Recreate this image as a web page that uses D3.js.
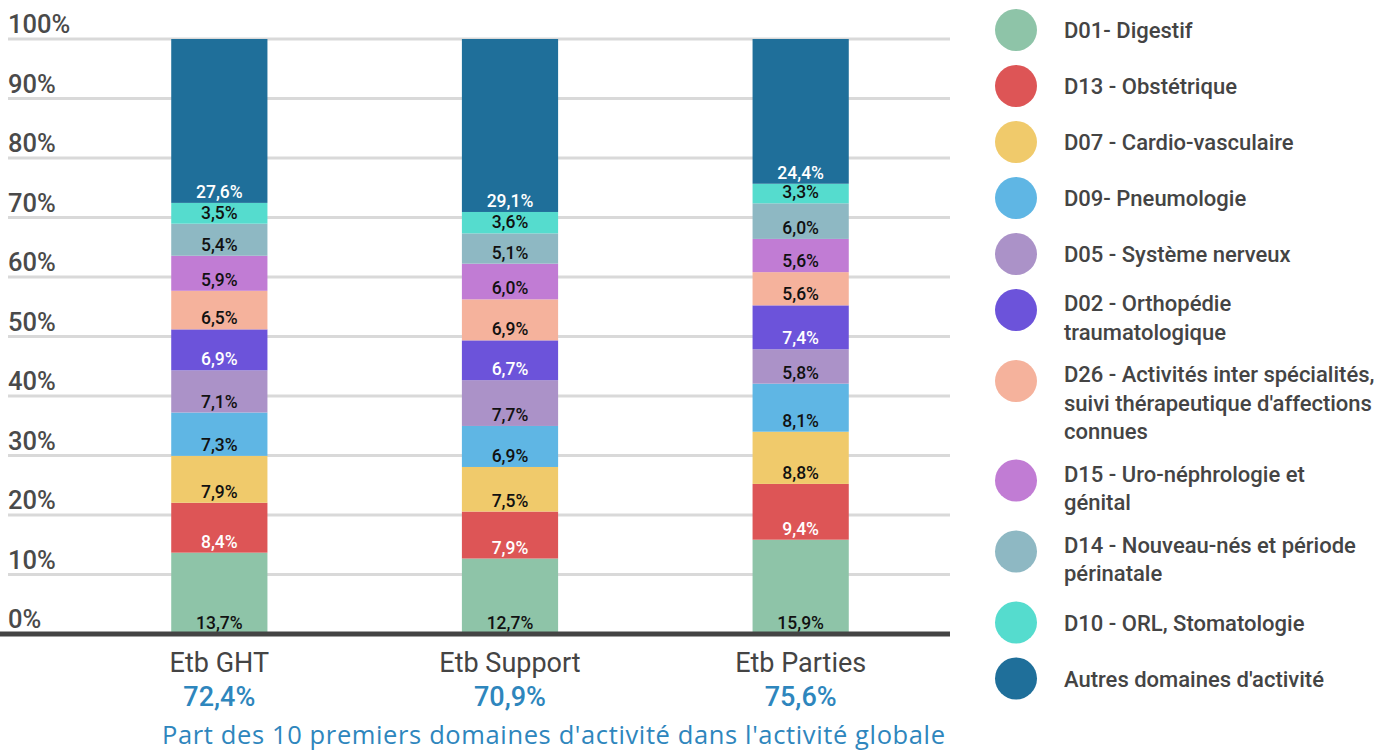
<!DOCTYPE html>
<html><head><meta charset="utf-8">
<script src="https://cdn.jsdelivr.net/npm/d3@7"></script>
<style>body{margin:0;background:#fff;font-family:Roboto,sans-serif}</style>
</head><body><svg id="c" width="1392" height="751"></svg>
<script>
const categories = ["Etb GHT", "Etb Support", "Etb Parties"];
const totals = ["72,4%", "70,9%", "75,6%"];
const seriesKeys = ["D01","D13","D07","D09","D05","D02","D26","D15","D14","D10","Autres"];
const seriesLabels = [
  ["D01- Digestif"],
  ["D13 - Obstétrique"],
  ["D07 - Cardio-vasculaire"],
  ["D09- Pneumologie"],
  ["D05 - Système nerveux"],
  ["D02 - Orthopédie", "traumatologique"],
  ["D26 - Activités inter spécialités,", "suivi thérapeutique d'affections", "connues"],
  ["D15 - Uro-néphrologie et", "génital"],
  ["D14 - Nouveau-nés et période", "périnatale"],
  ["D10 - ORL, Stomatologie"],
  ["Autres domaines d'activité"]
];
const seriesColors = ["#8ec4a8","#dd5556","#f0ca6b","#5fb6e4","#ab92c8","#6c53da","#f5b29c","#c17cd4","#8eb8c3","#55dcce","#1f6f9a"];
const labelColors = ["#111","#fff","#111","#111","#111","#fff","#111","#111","#111","#111","#fff"];
const valGHT     = [13.7, 8.4, 7.9, 7.3, 7.1, 6.9, 6.5, 5.9, 5.4, 3.5, 27.6];
const valSupport = [12.7, 7.9, 7.5, 6.9, 7.7, 6.7, 6.9, 6.0, 5.1, 3.6, 29.1];
const valParties = [15.9, 9.4, 8.8, 8.1, 5.8, 7.4, 5.6, 5.6, 6.0, 3.3, 24.4];
const yTicks = [0,10,20,30,40,50,60,70,80,90,100];
const footnote = "Part des 10 premiers domaines d'activité dans l'activité globale";

const allVals = [valGHT, valSupport, valParties];
const rows = categories.map((c,i)=>{
  const r = {cat:c};
  seriesKeys.forEach((k,j)=> r[k] = allVals[i][j]);
  return r;
});

const svg = d3.select("#c");
const y = d3.scaleLinear().domain([0,1]).range([634,39]);
const x = d3.scaleBand().domain(categories).range([74,946]).paddingInner(0.669).paddingOuter(0.3345);
const fmt = v => v.toFixed(1).replace(".", ",") + "%";

// gridlines
svg.append("g").selectAll("line").data(yTicks.filter(t=>t>0)).join("line")
  .attr("x1",8).attr("x2",950)
  .attr("y1",d=>y(d/100)).attr("y2",d=>y(d/100))
  .attr("stroke","#d9d9d9").attr("stroke-width",3);

// y labels
svg.append("g").selectAll("text").data(yTicks).join("text")
  .attr("x",8).attr("y",d=>y(d/100)-6)
  .attr("font-size",25.5).attr("font-weight",500).attr("fill","#4a4a4a")
  .text(d=>d+"%");

const stack = d3.stack().keys(seriesKeys).offset(d3.stackOffsetExpand);
const stacked = stack(rows);

const g = svg.append("g");
stacked.forEach((layer,j)=>{
  g.append("g").selectAll("rect").data(layer).join("rect")
    .attr("x",d=>x(d.data.cat)).attr("width",x.bandwidth())
    .attr("y",d=>y(d[1])).attr("height",d=>y(d[0])-y(d[1]))
    .attr("fill",seriesColors[j]);
});
stacked.forEach((layer,j)=>{
  g.append("g").selectAll("text").data(layer).join("text")
    .attr("x",d=>x(d.data.cat)+x.bandwidth()/2)
    .attr("y",d=>y(d[0])-5)
    .attr("text-anchor","middle")
    .attr("font-size",17.5).attr("font-weight",500)
    .attr("fill",labelColors[j])
    .text(d=>fmt(d.data[layer.key]));
});

// axis baseline
svg.append("line").attr("x1",0).attr("x2",950).attr("y1",y(0)).attr("y2",y(0))
  .attr("stroke","#444").attr("stroke-width",5);

// category labels
svg.append("g").selectAll("text").data(categories).join("text")
  .attr("x",d=>x(d)+x.bandwidth()/2).attr("y",672)
  .attr("text-anchor","middle").attr("font-size",27).attr("fill","#444")
  .text(d=>d);
svg.append("g").selectAll("text").data(categories).join("text")
  .attr("x",d=>x(d)+x.bandwidth()/2).attr("y",706)
  .attr("text-anchor","middle").attr("font-size",27).attr("font-weight",500).attr("fill","#2e86bd")
  .text((d,i)=>totals[i]);

svg.append("text").attr("x",162).attr("y",744)
  .attr("font-family","'Open Sans', sans-serif").attr("font-size",25.5).attr("fill","#2e86bd")
  .attr("textLength",783).attr("lengthAdjust","spacing")
  .text(footnote);

// legend
const lg = svg.append("g");
let itemTop = 9;
seriesKeys.forEach((k,j)=>{
  const lines = seriesLabels[j];
  const cy = itemTop + 21;
  lg.append("circle").attr("cx",1016).attr("cy",cy).attr("r",21).attr("fill",seriesColors[j]);
  const t = lg.append("text").attr("font-size",22).attr("font-weight",500).attr("fill","#444");
  const firstCenter = lines.length===1 ? cy : itemTop + 14;
  lines.forEach((ln,i)=>{
    t.append("tspan").attr("x",1064).attr("y",firstCenter + i*28.5 + 8).text(ln);
  });
  itemTop += Math.max(42, lines.length*28.5) + 14;
});
</script></body></html>
